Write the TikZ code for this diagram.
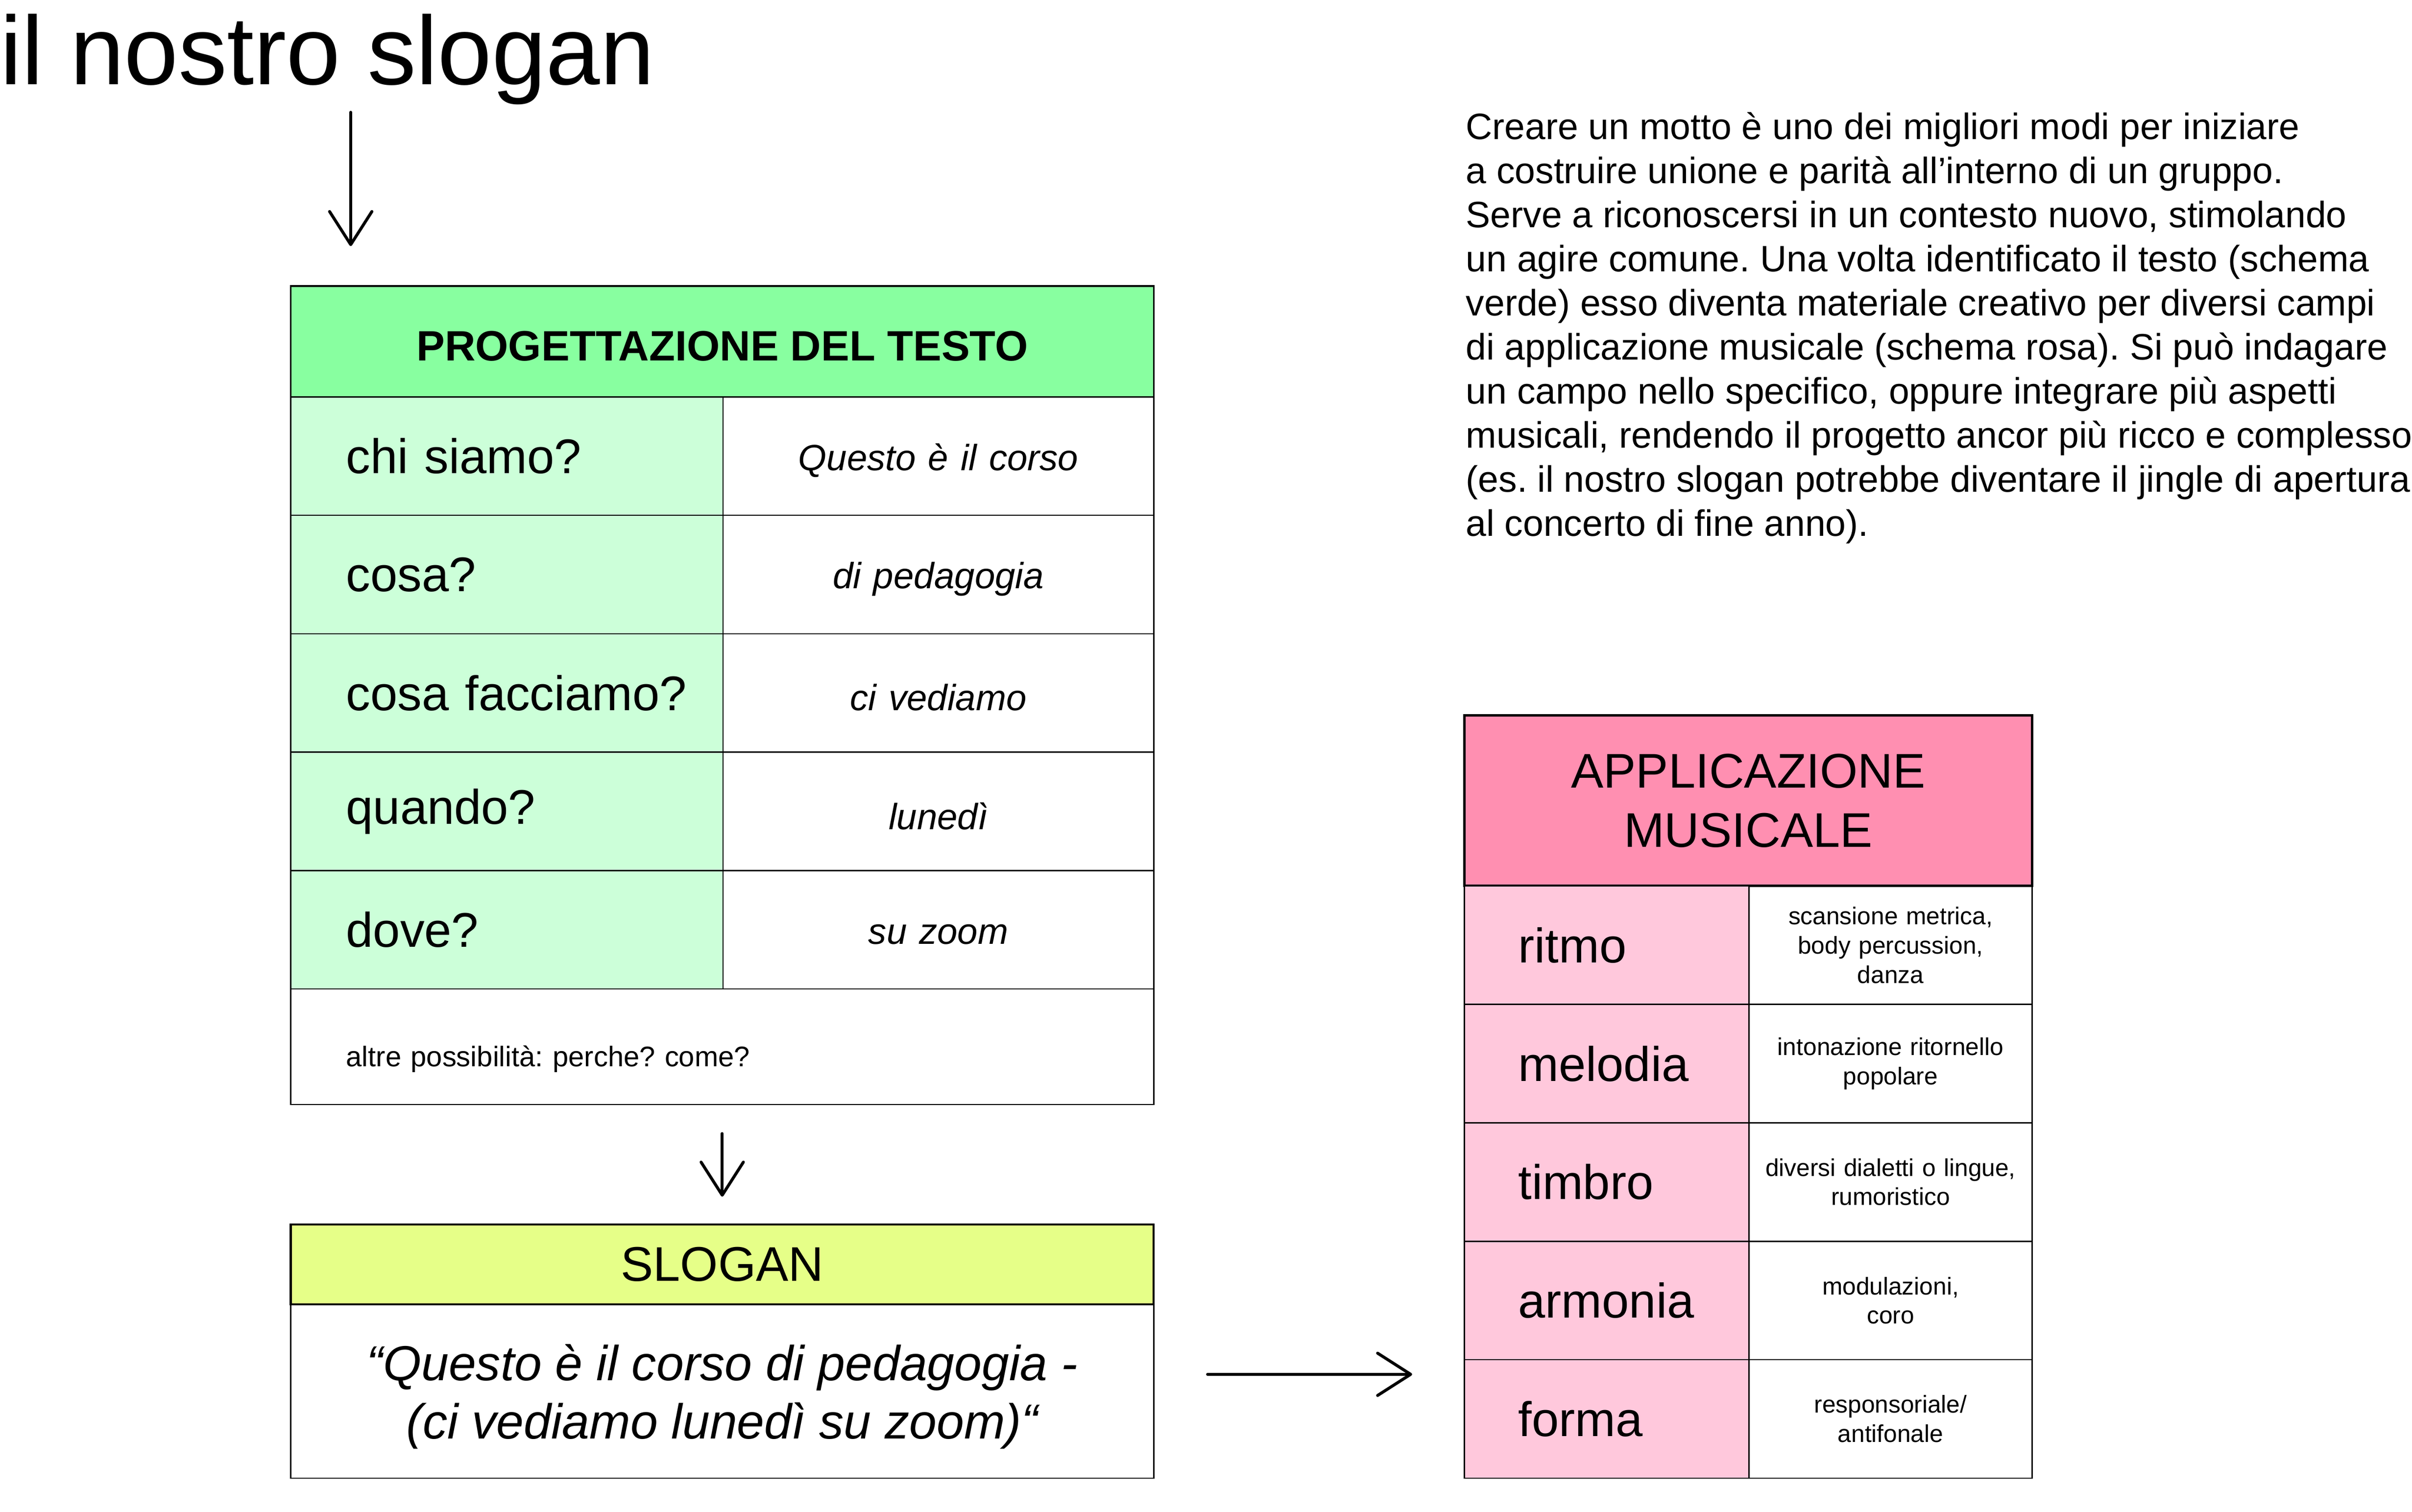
\documentclass[tikz,border=0pt]{standalone}
\usepackage{fontspec}
\setmainfont{Liberation Sans}
\usetikzlibrary{positioning,arrows.meta}
\definecolor{testogreen}{RGB}{136,255,160}
\definecolor{domandagreen}{RGB}{204,255,217}
\definecolor{sloganyellow}{RGB}{230,255,136}
\definecolor{musicapink}{RGB}{255,143,177}
\definecolor{campopink}{RGB}{255,200,220}
\newcommand{\fs}[2]{\fontsize{#1}{#2}\selectfont}
\newcommand{\abbassa}[2]{\raisebox{-#1}[\height][\depth]{#2}}

\begin{document}
\frenchspacing
\begin{tikzpicture}[>={Straight Barb[length=0.43cm,width=0.55cm,round]},outer sep=0pt]
    \tikzstyle{head} = [draw,inner sep=0pt,align=center]
    \tikzstyle{domanda} = [draw,line width=0.45pt,fill=domandagreen,minimum height=1.54cm,text width=5.62cm,inner xsep=0pt,inner ysep=0pt,align=left,font=\fs{18}{21.6},execute at begin node=\hspace*{0.72cm}]
    \tikzstyle{risposta} = [draw,line width=0.45pt,minimum height=1.54cm,text width=5.6cm,inner xsep=0pt,inner ysep=0pt,align=center,font=\itshape\fs{13.5}{16}]
    \tikzstyle{campo} = [draw,line width=0.45pt,fill=campopink,minimum height=1.54cm,text width=2.3cm,inner xsep=0.7cm,inner ysep=0pt,align=left,font=\fs{18}{21.6}]
    \tikzstyle{uso} = [draw,line width=0.45pt,minimum height=1.54cm,text width=3.68cm,inner xsep=0pt,inner ysep=0pt,align=center,font=\fs{9}{10.8}]
    \tikzstyle{freccia} = [->,line width=1.1pt,line cap=round]
      \useasboundingbox (0,0) rectangle (31.36,-19.66);
      \node[anchor=base west,inner sep=0pt,font=\fs{36}{40}] (titolo) at (0,-1.10) {il nostro slogan};
      % progettazione del testo
      \foreach \q/\a [count=\i] in {chi siamo?/Questo è il corso,cosa?/di pedagogia,cosa facciamo?/ci vediamo,quando?/lunedì,dove?/su zoom} {
        \node[domanda,anchor=north west] (q\i) at (3.78,{-5.16-(\i-1)*1.54}) {\q};
        \node[risposta,anchor=north west] (r\i) at (q\i.north east) {\abbassa{0.06cm}{\a}};
      }
      \node[head,line width=0.6pt,fill=testogreen,minimum width=11.22cm,minimum height=1.44cm,anchor=south west,font=\bfseries\fs{15.7}{19}] (testo) at (q1.north west) {\abbassa{0.06cm}{PROGETTAZIONE DEL TESTO}};
      \node[draw,line width=0.45pt,anchor=north west,minimum height=1.5cm,text width=9.78cm,inner xsep=0.72cm,inner ysep=0pt,align=left,font=\fs{10.5}{12.6}] (altro) at (q5.south west) {\abbassa{0.16cm}{altre possibilità: perche? come?}};
      % slogan
      \node[head,line width=0.75pt,fill=sloganyellow,minimum width=11.22cm,minimum height=1.04cm,anchor=north west,font=\fs{18}{21}] (slogantitolo) at (3.78,-15.92) {SLOGAN};
      \node[draw,line width=0.45pt,anchor=north west,minimum width=11.22cm,minimum height=2.26cm,inner sep=0pt,align=center,font=\itshape\fs{18.2}{21.6}] (slogan) at (slogantitolo.south west) {\abbassa{0.07cm}{“Questo è il corso di pedagogia -}\\\abbassa{0.07cm}{(ci vediamo lunedì su zoom)“}};
      % applicazione musicale
      \node[head,line width=0.95pt,fill=musicapink,minimum width=7.38cm,minimum height=2.22cm,anchor=north west,font=\fs{18}{22}] (musica) at (19.04,-9.30) {APPLICAZIONE\\MUSICALE};
      \foreach \c/\u [count=\i] in {ritmo/{scansione metrica,\\body percussion,\\danza},melodia/{intonazione ritornello\\popolare},timbro/{diversi dialetti o lingue,\\rumoristico},armonia/{modulazioni,\\coro},forma/{responsoriale/\\antifonale}} {
        \node[campo,anchor=north west] (c\i) at (19.04,{-11.52-(\i-1)*1.54}) {\c};
        \node[uso,anchor=north west] (u\i) at (c\i.north east) {\u};
      }
      \node[anchor=north west,inner sep=0pt,align=left,font=\fs{13.6}{16.3}] (motto) at (19.06,-1.46) {Creare un motto è uno dei migliori modi per iniziare\\a costruire unione e parità all’interno di un gruppo.\\Serve a riconoscersi in un contesto nuovo, stimolando\\un agire comune. Una volta identificato il testo (schema\\verde) esso diventa materiale creativo per diversi campi\\di applicazione musicale (schema rosa). Si può indagare\\un campo nello specifico, oppure integrare più aspetti\\musicali, rendendo il progetto ancor più ricco e complesso\\(es. il nostro slogan potrebbe diventare il jingle di apertura\\al concerto di fine anno).};
      % frecce
      \coordinate (giu) at (4.56,-1.46);
      \coordinate (giufine) at (4.56,-3.20);
      \draw[freccia] (giu) -- (giufine);
      \draw[freccia] ([yshift=-0.38cm]altro.south) -- ([yshift=0.36cm]slogantitolo.north);
      \draw[freccia] ([xshift=0.7cm,yshift=0.22cm]slogan.east) -- ([xshift=-0.68cm,yshift=0.22cm]slogan.east -| c5.west);
  \end{tikzpicture}
\end{document}
